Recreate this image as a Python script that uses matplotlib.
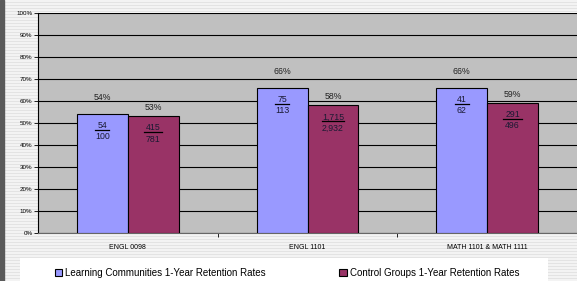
import numpy as np
import matplotlib.pyplot as plt
from matplotlib.patches import Rectangle

plt.rcParams['font.family'] = ['Liberation Sans', 'DejaVu Sans']

categories = ['ENGL 0098', 'ENGL 1101', 'MATH 1101 & MATH 1111']
lc_rates = [54, 66, 66]
cg_rates = [53, 58, 59]
lc_num = ['54', '75', '41']
lc_den = ['100', '113', '62']
cg_num = ['415', '1,715', '291']
cg_den = ['781', '2,932', '496']
series_names = ['Learning Communities 1-Year Retention Rates',
                'Control Groups 1-Year Retention Rates']

W, H = 577, 281
fig = plt.figure(figsize=(W / 100, H / 100), dpi=100)

# striped background
bg = fig.add_axes([0, 0, 1, 1], zorder=-5)
stripes = np.array([[0.95], [0.95], [0.89]] * 100)[:H]
bg.imshow(stripes, cmap='gray', vmin=0, vmax=1, aspect='auto',
          extent=[0, 1, 0, 1])
bg.add_patch(Rectangle((0, 0), 4 / W, 1, color='#5a5a5a'))
bg.add_patch(Rectangle((20 / W, 0), 528 / W, 23 / H, facecolor='white',
                       edgecolor='none'))
bg.set_xlim(0, 1)
bg.set_ylim(0, 1)
bg.axis('off')

ax = fig.add_axes([38 / W, 1 - 233 / H, 539 / W, 220 / H])
ax.set_facecolor('#c0c0c0')
x = np.arange(len(categories))
bw = 0.283
b1 = ax.bar(x - bw / 2, lc_rates, bw, color='#9999ff', edgecolor='black',
            linewidth=0.8, zorder=3)
b2 = ax.bar(x + bw / 2, cg_rates, bw, color='#993366', edgecolor='black',
            linewidth=0.8, zorder=3)

ax.set_xlim(-0.5, 2.5)
ax.set_ylim(0, 100)
ax.set_yticks(range(0, 101, 10))
ax.set_yticklabels([f'{v}%' for v in range(0, 101, 10)], fontsize=4.5)
ax.yaxis.grid(True, color='black', linewidth=0.8)
ax.set_axisbelow(True)
ax.set_xticks([0.5, 1.5])
ax.set_xticklabels([])
ax.tick_params(axis='x', length=3, width=0.6)
ax.tick_params(axis='y', length=3, width=0.6, pad=1)
for i, c in enumerate(categories):
    ax.text(i, -5, c, ha='center', va='top', fontsize=5)
for s in ['top', 'right']:
    ax.spines[s].set_visible(False)
ax.spines['left'].set_linewidth(0.8)
ax.spines['bottom'].set_color('#666666')

for xs, rates, nums, dens, off in [(x - bw / 2, lc_rates, lc_num, lc_den, 7.5),
                                   (x + bw / 2, cg_rates, cg_num, cg_den, 4.0)]:
    for xi, r, n, d in zip(xs, rates, nums, dens):
        ax.text(xi, r + off, f'{r}%', ha='center', va='center', fontsize=6.3,
                color='#222222')
        ax.text(xi, r - 5.2, n, ha='center', va='center', fontsize=6.3,
                color='#1a1a33', zorder=4)
        hw = 0.012 * len(n.replace(',', '')) + 0.015
        ax.plot([xi - hw, xi + hw], [r - 7.3, r - 7.3], color='black',
                linewidth=0.9, zorder=4)
        ax.text(xi, r - 10.3, d, ha='center', va='center', fontsize=6.3,
                color='#1a1a33', zorder=4)

fig.legend([b1, b2], series_names, loc='lower left',
           bbox_to_anchor=(46 / W, -6 / H), ncol=2, frameon=False,
           fontsize=7, handlelength=0.75, handleheight=0.75,
           handletextpad=0.3, columnspacing=7.6)

fig.savefig('out.png', dpi=100)
